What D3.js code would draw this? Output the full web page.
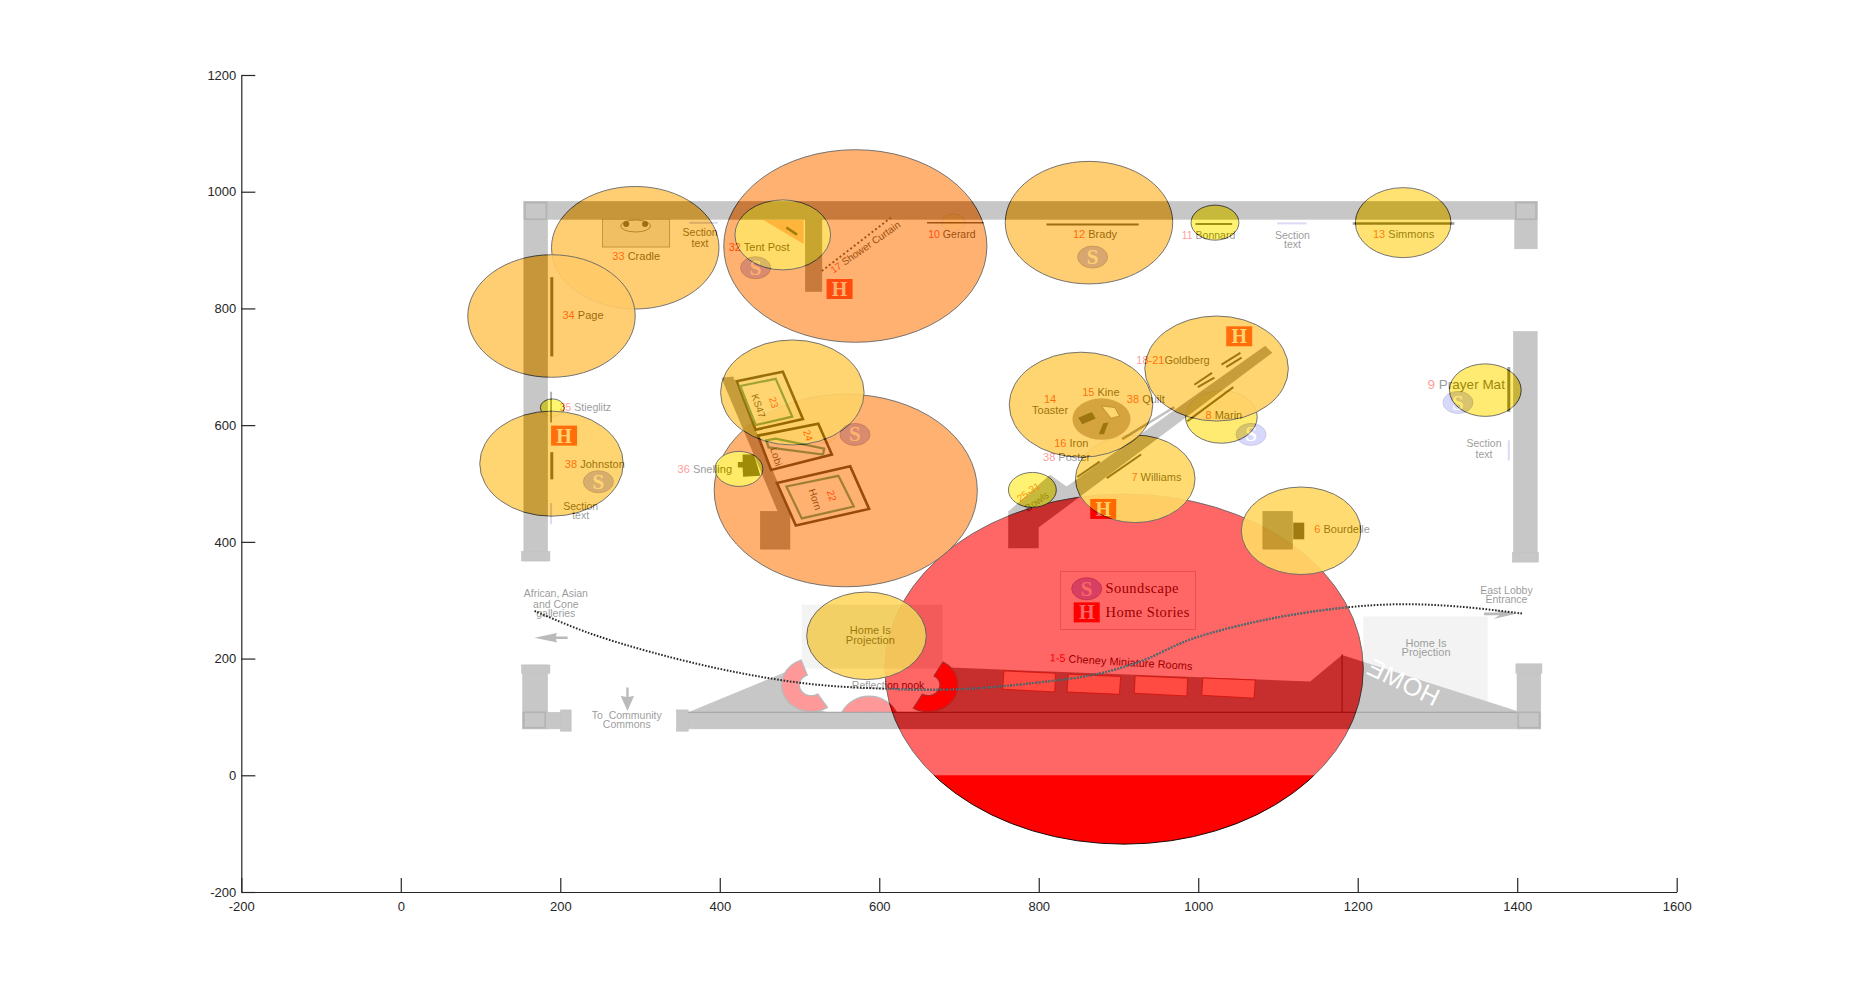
<!DOCTYPE html>
<html>
<head>
<meta charset="utf-8">
<script src="https://cdn.jsdelivr.net/npm/d3@7"></script>
<style>
html, body { margin: 0; padding: 0; background: #fff; }
svg { display: block; font-family: "Liberation Sans", Arial, sans-serif; }
</style>
</head>
<body>
<div id="plot"></div>
<script>
// bubbles, in axis units. order is draw order, later ones sit on top
var bubbleX = [693, 190, 531, 1029, 907, 558, 570, 294, 1129, 921, 584, 853, 1023, 189, 189, 491, 863, 1257, 1021, 479, 424, 792, 1360];
var bubbleY = [947, 630, 584, 614, 182, 488, 907, 904, 419, 508, 239, 635, 697, 787, 534, 656, 947, 947, 947, 926, 525, 489, 660];
var bubbleR = [15, 15, 15, 45, 300, 165, 165, 105, 75, 75, 75, 90, 90, 105, 90, 90, 105, 60, 30, 60, 30, 30, 45];

var xTicks = [-200, 0, 200, 400, 600, 800, 1000, 1200, 1400, 1600];
var yTicks = [-200, 0, 200, 400, 600, 800, 1000, 1200];

// the floor plan sits behind the bubbles as a picture, so everything below
// is in the plan's own units and goes through planX / planY
var wallRects = [
  [443, 171, 1300, 186], [443, 171, 463, 475], [441, 467, 465, 475],
  [1281, 171, 1300, 211], [1280, 281, 1300, 475], [1279, 468, 1301, 476],
  [581, 603, 1303, 617], [442, 563, 463, 617], [441, 563, 465, 570],
  [442, 603, 480, 617], [474, 601, 483, 619], [572, 601, 582, 619],
  [1283, 563, 1303, 617], [1282, 562, 1304, 570],
  [681, 186, 695, 247], [643, 433, 668, 465], [853, 433, 878, 464],
  [1068, 433, 1093, 465]
];
var cornerBoxes = [[444, 172, 462, 186], [1282, 172, 1299, 186], [443, 603, 461, 616], [1284, 603, 1302, 616]];
var wallPolys = [
  [[1070, 293], [1076, 299], [878, 447], [853, 433], [888, 402], [902, 412]],
  [[610, 320], [620, 319], [668, 433], [658, 434]]
];
var floorPolys = [
  [[582, 603], [674, 565], [664, 580], [670, 595], [700, 603]],
  [[798, 565], [1108, 577], [1135, 554.5], [1283, 602], [1283, 604], [790, 604]]
];
var lightRects = [[678, 512, 797, 566], [1153, 522, 1258, 600]];
var nookRings = [
  { cx: 686, cy: 580, a0: -213, a1: -20 },
  { cx: 735, cy: 612, a0: -65, a1: 65 },
  { cx: 785, cy: 580, a0: 30, a1: 210 }
];
var roomFrames = [
  [[623, 323], [662, 315], [679, 355], [639, 364]],
  [[641, 369], [692, 359], [703.5, 385], [652, 398]],
  [[657, 409], [719, 395], [735, 431], [673, 445]]
];
var roomInners = [
  [[626, 327], [656, 321], [670, 353], [639, 360]],
  [[648, 373], [656, 371.5], [697, 380], [696, 385], [650, 379]],
  [[665, 412], [709, 403], [722, 429], [678, 439]]
];
var cheneyRooms = [
  [[849, 568], [892.6, 570], [892, 585.8], [848, 583.5]],
  [[903.4, 570.8], [947.7, 572.8], [946.7, 587.8], [902.4, 585.8]],
  [[960, 572.2], [1004.3, 574.2], [1003.7, 589.2], [959.3, 586.9]],
  [[1017.2, 574], [1061.6, 575.7], [1060.5, 591.1], [1016.3, 588.6]]
];
var darkPolys = [
  [[628, 385], [637.5, 385], [643, 403], [628.4, 403.7], [628, 396], [624, 396], [624, 391.3], [628, 391.3]],
  [[911.8, 353.8], [923.3, 349], [926.6, 354.6], [915.3, 359.4]],
  [[929.2, 367.9], [933, 358.6], [937.3, 358], [933.7, 367.9]],
  [[1093.7, 442.6], [1103, 442.6], [1103, 456.7], [1093.7, 456.7]]
];
var grayArrows = [
  [[452, 540], [471, 536], [470, 539], [480, 539], [480, 541], [470, 541], [471, 544]],
  [[529.6, 582], [531.6, 582], [531.6, 590], [536.2, 589], [530.6, 602], [524.8, 589], [529.6, 590]],
  [[1255, 518.5], [1268, 518.5], [1263, 516], [1283, 519.5], [1263, 524], [1268, 521], [1255, 521]]
];
// x1, y1, x2, y2, width
var artLines = [
  [784, 189, 832, 189, 1.5], [885, 190.5, 963, 190.5, 2], [1011, 190, 1042, 190, 2],
  [1144, 189.5, 1230, 189.5, 2.5], [466.6, 235, 466.6, 302, 3], [466, 332, 466, 358, 1.5],
  [466.6, 383, 466.6, 406, 3], [1276, 311, 1276, 349, 3], [665, 193, 674, 199, 2.5],
  [1033, 309, 1049, 299, 2], [1037, 311, 1050, 303, 2], [1010, 326, 1025, 316, 2],
  [1013, 328, 1027, 320, 2], [1004, 357, 1043, 328, 2], [911, 404, 930, 391, 2],
  [936, 405, 965, 385, 2], [1135, 554, 1135, 603, 1], [582, 603, 1283, 603, 1]
];
var sectionMarks = [[583, 189, 607, 189], [1080, 189.5, 1105, 189.5], [466, 426, 466, 444], [1276, 373, 1276, 390]];
var soundMarks = [[639, 227], [924, 218], [1058, 368], [1233, 341], [723, 368], [506, 408], [919, 498.5]];
var homeMarks = [[710, 245], [1048, 285], [477, 369], [933, 431], [919, 518.5]];
// x, y, red number, black name, rotation, font px
var planLabels = [
  [538, 218, "33", " Cradle", 0, 11], [592, 198, "", "Section", 0, 10.5], [592, 207, "", "text", 0, 10.5],
  [642, 210, "32", " Tent Post", 0, 11], [732, 210, "17", " Shower Curtain", -35, 10], [805, 199, "10", " Gerard", 0, 10.5],
  [926, 199, "12", " Brady", 0, 11], [1022, 200, "11", " Bonnard", 0, 10.5], [1093, 200, "", "Section", 0, 10.5],
  [1093, 208, "", "text", 0, 10.5], [1187, 199, "13", " Simmons", 0, 11], [493, 268, "34", " Page", 0, 11],
  [495, 346, "35", " Stieglitz", 0, 10.5], [503, 394, "38", " Johnston", 0, 11], [491, 429, "", "Section", 0, 10.5],
  [491, 437, "", "text", 0, 10.5], [596, 398, "36", " Snelling", 0, 11], [992, 306, "18-21", "Goldberg", 0, 11],
  [888, 339, "14", "", 0, 11], [888, 348, "", "Toaster", 0, 11], [931, 333, "15", " Kine", 0, 11],
  [969, 339, "38", " Quilt", 0, 11], [906, 376, "16", " Iron", 0, 11], [902, 388, "38", " Poster", 0, 11],
  [1035, 352, "8", " Marin", 0, 11], [978, 405, "7", " Williams", 0, 11], [1240, 326, "9", " Prayer Mat", 0, 13.5],
  [1255, 376, "", "Section", 0, 10.5], [1255, 385, "", "text", 0, 10.5], [1135, 449, "6", " Bourdelle", 0, 11],
  [870, 417, "25-31", "", -35, 10], [877, 425, "", "Bowls", -35, 10], [654, 341, "23", "", 72, 10],
  [641, 344, "", "KS47", 72, 10], [683, 369, "24", "", 72, 10], [656, 387, "", "Lobi", 72, 10],
  [703, 420, "22", "", 72, 10], [689, 423, "", "Horn", 72, 10], [736, 534, "", "Home Is", 0, 11],
  [736, 543, "", "Projection", 0, 11], [1206, 545, "", "Home Is", 0, 11], [1206, 553, "", "Projection", 0, 11],
  [751, 581, "", "Reflection nook", 0, 10.5], [470, 503, "", "African, Asian", 0, 10.5], [470, 512, "", "and Cone", 0, 10.5],
  [470, 520, "", "galleries", 0, 10.5], [1274, 500, "", "East Lobby", 0, 10.5], [1274, 508, "", "Entrance", 0, 10.5],
  [530, 606, "", "To  Community", 0, 10.5], [530, 614, "", "Commons", 0, 10.5], [948, 561, "1-5", " Cheney Miniature Rooms", 3.5, 11]
];
var routeX = [452, 497, 552, 617, 682, 746.5, 811, 876, 926.6, 965.5, 1007.3, 1072.3, 1137, 1185.5, 1233.9, 1287.5];
var routeY = [517.3, 535.6, 552.5, 568, 578.7, 583, 583.5, 578, 570.9, 559.6, 541.2, 524.3, 514.5, 511.6, 513.6, 519.5];

var width = 1854;
var height = 1003;

var svg = d3.select("#plot").append("svg")
    .attr("width", width)
    .attr("height", height);

var x = d3.scaleLinear().domain([-200, 1600]).range([241.3, 1676.7]);
var y = d3.scaleLinear().domain([-200, 1200]).range([892, 75]);
var planX = d3.scaleLinear().domain([204, 1418]).range([x(-200), x(1600)]);
var planY = d3.scaleLinear().domain([755, 64]).range([y(-200), y(1200)]);
var planKx = planX(1) - planX(0);
var planKy = planY(1) - planY(0);

// autumn colormap, flipped
var bubbleColor = d3.scaleLinear().domain([0, 300]).range(["#ffff00", "#ff0000"]);

var defs = svg.append("defs");
defs.append("clipPath").attr("id", "redClip").append("ellipse")
    .attr("cx", x(907)).attr("cy", y(182))
    .attr("rx", x(300) - x(0)).attr("ry", y(0) - y(300));

// bubbles
svg.append("g").selectAll("ellipse")
    .data(bubbleR)
    .join("ellipse")
    .attr("cx", function (d, i) { return x(bubbleX[i]); })
    .attr("cy", function (d, i) { return y(bubbleY[i]); })
    .attr("rx", function (d) { return x(d) - x(0); })
    .attr("ry", function (d) { return y(0) - y(d); })
    .attr("fill", function (d) { return bubbleColor(d); })
    .attr("fill-opacity", function (d) { return d === 300 ? 1 : 0.92; })
    .attr("stroke", "#000")
    .attr("stroke-width", 0.9);

// the plan goes over the bubbles at 40%, it stops at y = 0
var plan = svg.append("g").attr("opacity", 0.4);

plan.append("rect")
    .attr("x", x(0)).attr("y", y(1200))
    .attr("width", x(1600) - x(0)).attr("height", y(0) - y(1200))
    .attr("fill", "#fff");

function polyPath(pts) {
    return "M" + pts.map(function (p) { return planX(p[0]) + "," + planY(p[1]); }).join("L") + "Z";
}
function drawPolys(list, fill, stroke, sw) {
    plan.append("g").selectAll("path").data(list).join("path")
        .attr("d", polyPath)
        .attr("fill", fill)
        .attr("stroke", stroke)
        .attr("stroke-width", sw);
}
function drawRects(list, fill, stroke, sw) {
    plan.append("g").selectAll("rect").data(list).join("rect")
        .attr("x", function (d) { return planX(d[0]); })
        .attr("y", function (d) { return planY(d[1]); })
        .attr("width", function (d) { return planX(d[2]) - planX(d[0]); })
        .attr("height", function (d) { return planY(d[3]) - planY(d[1]); })
        .attr("fill", fill)
        .attr("stroke", stroke)
        .attr("stroke-width", sw);
}

drawRects(lightRects, "#e2e2e2", "none", 0);
drawPolys(floorPolys, "#757575", "none", 0);

var ringArc = d3.arc().innerRadius(10).outerRadius(25);
plan.append("g").selectAll("path").data(nookRings).join("path")
    .attr("d", function (d) {
        return ringArc({ startAngle: d.a0 * Math.PI / 180, endAngle: d.a1 * Math.PI / 180 });
    })
    .attr("transform", function (d) {
        return "translate(" + planX(d.cx) + "," + planY(d.cy) + ") scale(" + planKx + "," + (planKy * 0.9) + ")";
    })
    .attr("fill", "#ff0000")
    .attr("stroke", "#555")
    .attr("stroke-width", 1.4)
    .attr("vector-effect", "non-scaling-stroke");

drawRects(wallRects, "#757575", "#6a6a6a", 0.6);
drawPolys(wallPolys, "#757575", "none", 0);
drawRects(cornerBoxes, "none", "#444", 1.6);

// HOME lettering on the floor, mirrored in the source
plan.append("text")
    .attr("transform", "translate(" + planX(1186) + "," + planY(579) + ") rotate(26) scale(-1,1)")
    .attr("text-anchor", "middle")
    .attr("dominant-baseline", "middle")
    .attr("font-size", 25)
    .attr("letter-spacing", 0.6)
    .attr("fill", "#fff")
    .text("HOME");

drawPolys(cheneyRooms, "#ffbba2", "#8b2a10", 0.8);

// cradle
plan.append("rect")
    .attr("x", planX(509.6)).attr("y", planY(186))
    .attr("width", planX(566.3) - planX(509.6)).attr("height", planY(209.5) - planY(186))
    .attr("fill", "#dcdcdc").attr("stroke", "#444").attr("stroke-width", 0.7);
plan.append("ellipse")
    .attr("cx", planX(537.5)).attr("cy", planY(191.7))
    .attr("rx", 15).attr("ry", 6)
    .attr("fill", "none").attr("stroke", "#222").attr("stroke-width", 0.8);
plan.append("g").selectAll("circle").data([529.5, 545.5]).join("circle")
    .attr("cx", function (d) { return planX(d); }).attr("cy", planY(190)).attr("r", 3).attr("fill", "#111");

// tent post corner
drawPolys([[[645.6, 186.6], [679.6, 186.6], [679.6, 207]]], "#ff9d96", "none", 0);

// toaster disc
plan.append("ellipse")
    .attr("cx", planX(931.5)).attr("cy", planY(355))
    .attr("rx", 24.6 * planKx).attr("ry", 17.5 * planKy)
    .attr("fill", "#9b857d");
drawPolys([[[931.5, 343.9], [942.8, 345.3], [946.7, 352.4], [939.6, 354.4]]], "#fff", "#222", 0.6);
drawPolys(darkPolys, "#111", "none", 0);

drawPolys(roomFrames, "none", "#000", 2.6);
drawPolys(roomInners, "none", "#148264", 2.2);
drawPolys(grayArrows, "#555", "none", 0);

plan.append("g").selectAll("line").data(artLines).join("line")
    .attr("x1", function (d) { return planX(d[0]); })
    .attr("y1", function (d) { return planY(d[1]); })
    .attr("x2", function (d) { return planX(d[2]); })
    .attr("y2", function (d) { return planY(d[3]); })
    .attr("stroke-width", function (d) { return d[4]; })
    .attr("stroke", "#111");

plan.append("line")
    .attr("x1", planX(949)).attr("y1", planY(372))
    .attr("x2", planX(993)).attr("y2", planY(345))
    .attr("stroke", "#666").attr("stroke-width", 2.5);

plan.append("line")
    .attr("x1", planX(695)).attr("y1", planY(229.8))
    .attr("x2", planX(753.4)).attr("y2", planY(184.6))
    .attr("stroke", "#111").attr("stroke-width", 2).attr("stroke-dasharray", "2 2.5");

plan.append("g").selectAll("line").data(sectionMarks).join("line")
    .attr("x1", function (d) { return planX(d[0]); })
    .attr("y1", function (d) { return planY(d[1]); })
    .attr("x2", function (d) { return planX(d[2]); })
    .attr("y2", function (d) { return planY(d[3]); })
    .attr("stroke", "#a8a8e6").attr("stroke-width", 2);

// legend frame
plan.append("rect")
    .attr("x", planX(897)).attr("y", planY(484))
    .attr("width", planX(1011) - planX(897)).attr("height", planY(533) - planY(484))
    .attr("fill", "none").attr("stroke", "#c8b0b0").attr("stroke-width", 0.8);

// S and H markers
var sG = plan.append("g").selectAll("g").data(soundMarks).join("g")
    .attr("transform", function (d) { return "translate(" + planX(d[0]) + "," + planY(d[1]) + ")"; });
sG.append("ellipse")
    .attr("rx", 15).attr("ry", 11)
    .attr("fill", "#a0a0f8").attr("stroke", "#7070b0").attr("stroke-width", 0.8);
sG.append("text")
    .attr("text-anchor", "middle").attr("y", 7)
    .attr("font-family", "Liberation Serif").attr("font-weight", "bold")
    .attr("font-size", 21).attr("fill", "#fff").text("S");

var hG = plan.append("g").selectAll("g").data(homeMarks).join("g")
    .attr("transform", function (d) { return "translate(" + planX(d[0]) + "," + planY(d[1]) + ")"; });
hG.append("rect")
    .attr("x", -13).attr("y", -10).attr("width", 26).attr("height", 20)
    .attr("fill", "#ff0000");
hG.append("text")
    .attr("text-anchor", "middle").attr("y", 7)
    .attr("font-family", "Liberation Serif").attr("font-weight", "bold")
    .attr("font-size", 20).attr("fill", "#fff").text("H");

plan.append("text")
    .attr("x", planX(935)).attr("y", planY(502))
    .attr("font-family", "Liberation Serif").attr("font-size", 14.5).attr("letter-spacing", 0.4)
    .attr("fill", "#000").text("Soundscape");
plan.append("text")
    .attr("x", planX(935)).attr("y", planY(522.5))
    .attr("font-family", "Liberation Serif").attr("font-size", 14.5).attr("letter-spacing", 0.4)
    .attr("fill", "#000").text("Home Stories");

// plan labels, number in red then the name in black
var labels = plan.append("g").selectAll("text").data(planLabels).join("text")
    .attr("transform", function (d) {
        return "translate(" + planX(d[0]) + "," + planY(d[1]) + ") rotate(" + d[4] + ")";
    })
    .attr("text-anchor", "middle")
    .attr("dominant-baseline", "middle")
    .attr("font-size", function (d) { return d[5]; })
    .style("white-space", "pre");
labels.append("tspan").attr("fill", "#ff0000").text(function (d) { return d[2]; });
labels.append("tspan").attr("fill", "#000").text(function (d) { return d[3]; });

// dotted route, it reads as teal where it crosses the big red bubble
var routeLine = d3.line()
    .x(function (d, i) { return planX(d); })
    .y(function (d, i) { return planY(routeY[i]); })
    .curve(d3.curveCatmullRom);
svg.append("path")
    .attr("d", routeLine(routeX))
    .attr("fill", "none")
    .attr("stroke", "#2a2a2a")
    .attr("stroke-width", 2)
    .attr("stroke-dasharray", "1.6 1.6");
svg.append("path")
    .attr("d", routeLine(routeX))
    .attr("fill", "none")
    .attr("clip-path", "url(#redClip)")
    .attr("stroke", "#4a7a80")
    .attr("stroke-width", 2.2)
    .attr("stroke-dasharray", "1.6 1.6");

// axes, matlab style with inward ticks and no box
var xAxis = d3.axisBottom(x).tickValues(xTicks).tickSizeInner(-14).tickSizeOuter(0).tickPadding(10).tickFormat(String);
var yAxis = d3.axisLeft(y).tickValues(yTicks).tickSizeInner(-14).tickSizeOuter(0).tickPadding(5).tickFormat(String);

var gx = svg.append("g").attr("transform", "translate(0," + y(-200) + ")").call(xAxis);
var gy = svg.append("g").attr("transform", "translate(" + x(-200) + ",0)").call(yAxis);

[gx, gy].forEach(function (g) {
    g.selectAll("path, line").attr("stroke", "#262626").attr("stroke-width", 1.2);
    g.selectAll("text")
        .attr("fill", "#262626")
        .attr("font-size", 13)
        .attr("font-family", "Liberation Sans");
});
</script>
</body>
</html>
